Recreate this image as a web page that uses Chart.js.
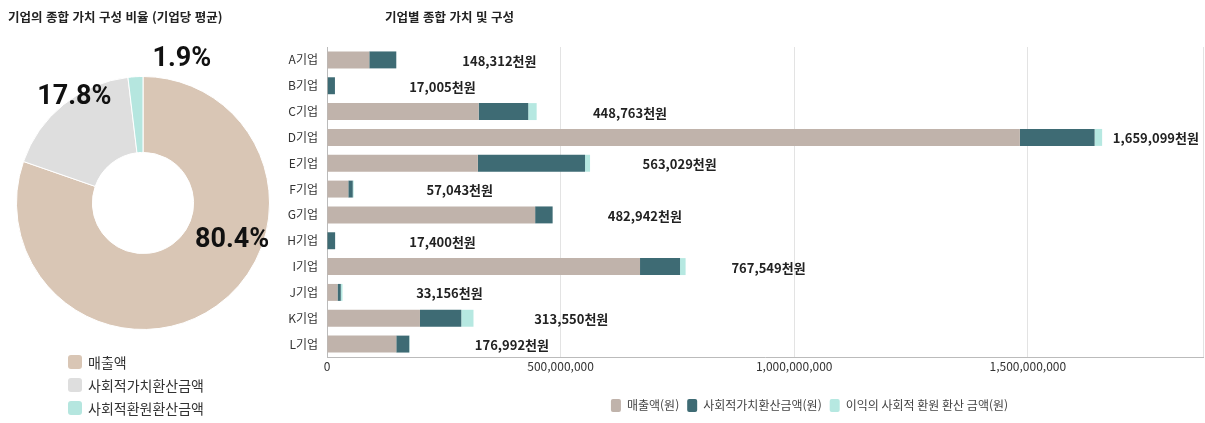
<!DOCTYPE html>
<html lang="ko">
<head>
<meta charset="utf-8">
<script src="https://cdn.jsdelivr.net/npm/chart.js@4"></script>
<style>
	body { margin: 0; background: #fff; font-family: 'Noto Sans CJK KR', sans-serif; }
	#wrap { position: relative; width: 1205px; height: 423px; overflow: hidden; }
	.title { position: absolute; top: 9px; font-size: 12.5px; font-weight: bold; color: #222; line-height: 16px; z-index: 5; }
	.box { position: absolute; top: 0; }
	#donutLegend { position: absolute; left: 68px; top: 350px; margin: 0; padding: 0; list-style: none; z-index: 5; }
	#donutLegend li { height: 23px; display: flex; align-items: center; font-size: 14px; color: #333; }
	#donutLegend span { display: inline-block; width: 14px; height: 14px; border-radius: 3px; margin-right: 6px; }
</style>
</head>
<body>
<div id="wrap">
	<div class="title" style="left:8px">기업의 종합 가치 구성 비율 (기업당 평균)</div>
	<div class="title" style="left:385px">기업별 종합 가치 및 구성</div>
	<div class="box" style="left:0;width:286px;height:423px"><canvas id="donut"></canvas></div>
	<div class="box" style="left:280px;width:925px;height:423px"><canvas id="bars"></canvas></div>
	<ul id="donutLegend"></ul>
</div>
<script>
// 평균 구성 비율 (%)
const shareLabels = ["매출액", "사회적가치환산금액", "사회적환원환산금액"];
const shareValues = [80.4, 17.8, 1.9];
const shareColors = ["#d9c6b5", "#dedede", "#b5e6df"];

// 기업별 금액 (원)
const companies = ["A기업", "B기업", "C기업", "D기업", "E기업", "F기업", "G기업", "H기업", "I기업", "J기업", "K기업", "L기업"];
const sales = [90500000, 1500000, 324600000, 1483000000, 322900000, 45600000, 445500000, 500000, 670000000, 22500000, 199000000, 148300000];
const socialValue = [57812000, 15505000, 106100000, 160000000, 229400000, 9500000, 37442000, 16900000, 85600000, 7000000, 88400000, 27800000];
const socialReturn = [0, 0, 18063000, 16099000, 10729000, 1943000, 0, 0, 11949000, 3656000, 26150000, 892000];
const seriesNames = ["매출액(원)", "사회적가치환산금액(원)", "이익의 사회적 환원 환산 금액(원)"];
const barColors = ["#c0b3ab", "#3e6b74", "#b6e8e1"];
const xTicks = [0, 500000000, 1000000000, 1500000000];
const xMax = 1875000000;

Chart.defaults.font.family = "'Noto Sans CJK KR', sans-serif";
Chart.defaults.animation = false;

// left legend
const $legend = document.getElementById("donutLegend");
shareLabels.forEach(function (name, i) {
	const li = document.createElement("li");
	const sw = document.createElement("span");
	sw.style.background = shareColors[i];
	li.appendChild(sw);
	li.appendChild(document.createTextNode(name));
	$legend.appendChild(li);
});

// percent labels around the ring
const pctLabels = {
	id: "pctLabels",
	afterDatasetsDraw(chart) {
		const ctx = chart.ctx;
		const nudge = [[0.705, 0.297], [-0.543, -0.835], [0.307, -1.134]];
		chart.getDatasetMeta(0).data.forEach(function (arc, i) {
			const r = arc.outerRadius;
			ctx.save();
			ctx.font = "bold 27px Roboto, 'Liberation Sans', sans-serif";
			ctx.fillStyle = "#111";
			ctx.textAlign = "center";
			ctx.textBaseline = "middle";
			ctx.fillText(shareValues[i] + "%", arc.x + nudge[i][0] * r, arc.y + nudge[i][1] * r);
			ctx.restore();
		});
	},
};

const donut = new Chart(document.getElementById("donut"), {
	type: "doughnut",
	data: {
		labels: shareLabels,
		datasets: [
			{
				data: shareValues,
				backgroundColor: shareColors,
				borderColor: "#fff",
				borderWidth: 1,
			},
		],
	},
	options: {
		maintainAspectRatio: false,
		cutout: "40%",
		layout: { padding: { top: 76, bottom: 93, left: 16, right: 16 } },
		plugins: {
			legend: { display: false },
			tooltip: { enabled: false },
		},
	},
	plugins: [pctLabels],
});

// total labels (천원)
const totalLabels = {
	id: "totalLabels",
	afterDatasetsDraw(chart) {
		const ctx = chart.ctx;
		const x = chart.scales.x;
		const y = chart.scales.y;
		const left = chart.chartArea.left;
		ctx.save();
		ctx.font = "bold 13px 'Noto Sans CJK KR', sans-serif";
		ctx.fillStyle = "#222";
		ctx.textAlign = "center";
		ctx.textBaseline = "middle";
		companies.forEach(function (c, i) {
			const total = sales[i] + socialValue[i] + socialReturn[i];
			const end = x.getPixelForValue(total);
			const cx = left + 0.93 * (end - left) + 108;
			ctx.fillText(Math.round(total / 1000).toLocaleString("en-US") + "천원", cx, y.getPixelForValue(i) + 1);
		});
		ctx.restore();
	},
};

// legend sits a bit right of centre in the original
const legendShift = {
	id: "legendShift",
	afterLayout(chart) {
		chart.legend.left += 68;
		chart.legend.right += 68;
	},
};

const bars = new Chart(document.getElementById("bars"), {
	type: "bar",
	data: {
		labels: companies,
		datasets: [
			{ label: seriesNames[0], data: sales, backgroundColor: barColors[0] },
			{ label: seriesNames[1], data: socialValue, backgroundColor: barColors[1] },
			{ label: seriesNames[2], data: socialReturn, backgroundColor: barColors[2] },
		],
	},
	options: {
		indexAxis: "y",
		maintainAspectRatio: false,
		barPercentage: 0.82,
		categoryPercentage: 0.8,
		layout: { padding: { top: 47, bottom: 1, left: 0, right: 2 } },
		scales: {
			x: {
				stacked: true,
				min: 0,
				max: xMax,
				grid: { color: "#e3e3e3", drawTicks: false },
				border: { color: "#bbb" },
				afterBuildTicks: function (axis) {
					axis.ticks = xTicks.concat([xMax]).map(function (v) {
						return { value: v };
					});
				},
				ticks: {
					padding: 2,
					color: "#333",
					font: { size: 12 },
					maxRotation: 0,
					autoSkip: false,
					callback: function (v) {
						return xTicks.indexOf(v) >= 0 ? v.toLocaleString("en-US") : "";
					},
				},
				afterFit: function (axis) {
					axis.height = 34;
				},
			},
			y: {
				stacked: true,
				grid: { display: false, drawTicks: false },
				border: { color: "#bbb" },
				ticks: { padding: 9, color: "#333", font: { size: 12 } },
				afterFit: function (axis) {
					axis.width = 47;
				},
			},
		},
		plugins: {
			legend: {
				position: "bottom",
				labels: {
					boxWidth: 10,
					boxHeight: 13,
					useBorderRadius: true,
					borderRadius: 2,
					padding: 8,
					color: "#444",
					font: { size: 12 },
				},
			},
			tooltip: { enabled: false },
		},
	},
	plugins: [totalLabels, legendShift],
});
</script>
</body>
</html>
